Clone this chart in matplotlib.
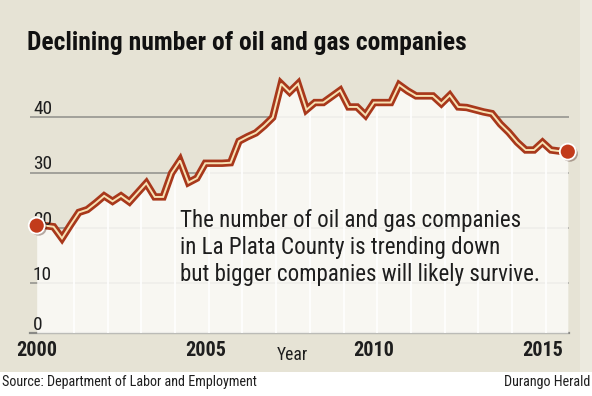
import matplotlib
matplotlib.use('Agg')
import matplotlib.pyplot as plt
import matplotlib.patheffects as pe
import matplotlib.transforms as mtransforms
from matplotlib.patches import Rectangle
from matplotlib import font_manager as fm
import pandas as pd

# ---------------- data ----------------
quarters = pd.period_range('2000Q1', '2015Q4', freq='Q')
companies = [20.4, 20.4, 20.2, 18.1, 20.5, 22.8, 23.3, 24.5, 25.8, 24.8,
             25.8, 24.7, 26.4, 28.1, 25.6, 25.6, 29.9, 32.2, 28.2, 29.0,
             31.7, 31.7, 31.7, 31.8, 35.7, 36.5, 37.2, 38.5, 40.0, 46.1,
             44.6, 46.1, 41.4, 42.7, 42.7, 43.8, 44.9, 41.9, 41.9, 40.4,
             42.7, 42.7, 42.7, 45.9, 44.8, 43.9, 43.9, 43.9, 42.5, 44.0,
             41.9, 41.8, 41.4, 41.0, 40.7, 38.8, 37.3, 35.5, 34.1, 34.1,
             35.5, 34.1, 33.9, 33.8]
y_ticks = [0, 10, 20, 30, 40]
x_label_years = [2000, 2005, 2010, 2015]

title = "Declining number of oil and gas companies"
note_lines = ["The number of oil and gas companies",
              "in La Plata County is trending down",
              "but bigger companies will likely survive."]
source = "Source: Department of Labor and Employment"
credit = "Durango Herald"

# ---------------- font choice (prefer a condensed face) ----------------
def pick_font():
    names = {f.name for f in fm.fontManager.ttflist}
    for n in ['Liberation Sans Narrow', 'Roboto Condensed', 'Noto Sans Condensed',
              'Open Sans Condensed', 'Noto Sans SemiCondensed', 'Arial Narrow']:
        if n in names:
            return n, 'normal'
    for f in fm.fontManager.ttflist:
        if f.name == 'DejaVu Sans' and 'condensed' in str(f.stretch):
            return 'DejaVu Sans', 'condensed'
    return 'Roboto', 'normal'

FNAME, FSTRETCH = pick_font()
FONT = [FNAME, 'DejaVu Sans']
plt.rcParams['font.family'] = FONT
plt.rcParams['font.stretch'] = FSTRETCH

# ---------------- style ----------------
BEIGE = '#e6e3d5'
FILL = '#fbfaf7'
DARK = '#a8381b'
CREAM = '#f7e2b4'
RED = '#c23b1b'
GRID = '#8f8f8a'
TXT = '#1e1e1e'

W, H = 592, 396
fig = plt.figure(figsize=(W / 100, H / 100), dpi=100)
fig.patch.set_facecolor('white')
renderer = fig.canvas.get_renderer()


def fx(px):
    return px / W


def fy(py):
    return 1 - py / H


def fit(t, target_w, max_size=None):
    """scale the font size so the text spans target_w pixels"""
    w = t.get_window_extent(renderer).width
    if w > 0:
        s = t.get_fontsize() * target_w / w
        if max_size is not None:
            s = min(s, max_size)
        t.set_fontsize(s)
    return t


fig.add_artist(Rectangle((0, fy(372)), 1, 372 / H, transform=fig.transFigure,
                         color=BEIGE, zorder=0, lw=0))
fig.add_artist(Rectangle((fx(580), fy(372)), 12 / W, 372 / H, transform=fig.transFigure,
                         color='#eceadf', zorder=0, lw=0))

x = [q.year + (q.quarter - 1) / 4 for q in quarters]

ax = fig.add_axes([fx(30), fy(333), (569 - 30) / W, (333 - 65) / H])
ax.set_facecolor('none')
for s in ax.spines.values():
    s.set_visible(False)
ax.set_xticks([])
ax.set_yticks([])

px_per_year = (567.8 - 36.7) / 15.75
x0 = 2000 - (36.7 - 30) / px_per_year
x1 = 2000 + (569 - 36.7) / px_per_year
ax.set_xlim(x0, x1)
y0, y1 = 0.95, 49.5
ax.set_ylim(y0, y1)

# grid
for v in y_ticks[1:]:
    ax.axhline(v, color=GRID, lw=1.1, zorder=1)
ax.axhline(y0, color='#8a8a86', lw=1.6, zorder=1, clip_on=False)

# fill under the line
poly = ax.fill_between(x, companies, y0, color=FILL, alpha=0.88, lw=0, zorder=2)
clip = poly.get_paths()[0]
for yr in range(2001, 2016):
    ln = ax.axvline(yr + 0.1, color='white', lw=1.3, alpha=0.9, zorder=2.2)
    ln.set_clip_path(clip, ax.transData)

# line
ax.plot(x, companies, color=DARK, lw=5.3, solid_joinstyle='miter', zorder=3)
ax.plot(x, companies, color=CREAM, lw=1.4, solid_joinstyle='miter', zorder=4)

# end dots
ax.plot([x[0], x[-1]], [companies[0], companies[-1]], 'o', ms=11.5, mfc=RED,
        mec='white', mew=1.3, zorder=5, clip_on=False,
        path_effects=[pe.SimplePatchShadow(offset=(1.5, -1.5), alpha=0.35), pe.Normal()])

# y tick labels inside
btr = mtransforms.blended_transform_factory(ax.transAxes, ax.transData)
ylab = []
for v in y_ticks:
    t = ax.text((33 - 30) / (569 - 30), max(v, y0) + 0.6, str(v), transform=btr,
                ha='left', va='baseline', fontsize=13, color=TXT)
    ylab.append(t)
s40 = fit(ylab[-1], 19, 16).get_fontsize()
for t in ylab:
    t.set_fontsize(s40)

# x labels
xtr = mtransforms.blended_transform_factory(ax.transData, fig.transFigure)
xlab = []
for yr in x_label_years:
    t = ax.text(yr, fy(356.5), str(yr), transform=xtr, ha='center', va='baseline',
                fontsize=15, fontweight='bold', color=TXT)
    xlab.append(t)
sx = fit(xlab[0], 41, 16).get_fontsize()
for t in xlab:
    t.set_fontsize(sx)
fit(fig.text(fx(277), fy(360), 'Year', ha='left', va='baseline', fontsize=13,
             color=TXT), 31, 14)

# title
fit(fig.text(fx(27), fy(50), title, ha='left', va='baseline', fontsize=18,
             fontweight='heavy', color='#111111'), 438, 19)

# note
notes = []
for line, base in zip(note_lines, [226.5, 254, 281.5]):
    notes.append(fig.text(fx(180), fy(base), line, ha='left', va='baseline',
                          fontsize=17, color=TXT))
sn = fit(notes[2], 360, 17).get_fontsize()
for t in notes:
    t.set_fontsize(sn)

# footer
fit(fig.text(fx(2), fy(386), source, ha='left', va='baseline', fontsize=12,
             color=TXT), 255, 13)
fit(fig.text(fx(590), fy(386), credit, ha='right', va='baseline', fontsize=12,
             color=TXT), 87, 13)

fig.savefig('out.png', dpi=100, facecolor=fig.get_facecolor())
